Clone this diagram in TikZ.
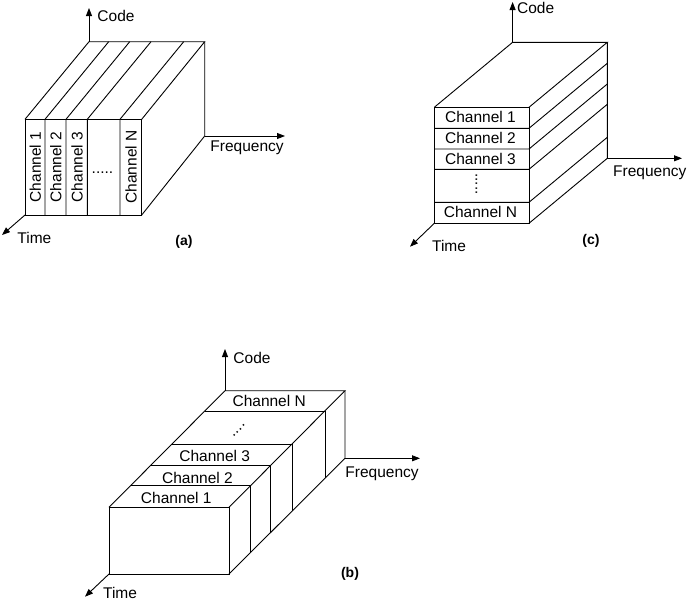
\documentclass[tikz,border=0pt]{standalone}
\usepackage{fontspec}
\setmainfont{Liberation Sans}
\usetikzlibrary{arrows.meta}
\begin{document}
\begin{tikzpicture}[x=1pt,y=-1pt,line width=0.9pt,line join=miter,
  axis/.style={-{Triangle[length=8pt,width=6pt]}},
  lbl/.style={inner sep=0pt,font=\fontsize{15.5}{18}\selectfont},
  capt/.style={inner sep=0pt,font=\fontsize{14}{16}\selectfont\bfseries}]
\useasboundingbox (0,0) rectangle (689,600);
% ---------------- (a) ----------------
\coordinate (aFTL) at (25,119.3);
\coordinate (aFTR) at (141.7,119.3);
\coordinate (aFBL) at (25,215);
\coordinate (aFBR) at (141.7,215);
\coordinate (aBTL) at (89,41.7);
\coordinate (aBTR) at (204.7,41.7);
\coordinate (aBBR) at (204.7,136);
\coordinate (aCode) at (89,8);
\coordinate (aFreq) at (285,136);
\coordinate (aTime) at (2,235);
\draw (aFTL) rectangle (aFBR);
\draw (aFTL) -- (aBTL) -- (aBTR) -- (aFTR);
\draw (aBTR) -- (aBBR) -- (aFBR);
\foreach \x in {45,66,87.3,120} \draw (\x,215) -- (\x,119.3) -- ++(63.7,-77.6);
\draw[axis] (aBTL) -- (aCode);
\draw[axis] (aBBR) -- (aFreq);
\draw[axis] (aFBL) -- (aTime);
\node[lbl,anchor=base west] (aCodeL) at (97,21.7) {Code};
\node[lbl,anchor=base west] (aFreqL) at (210,151.7) {Frequency};
\node[lbl,anchor=base west] (aTimeL) at (17,243.3) {Time};
\node[capt] (aCap) at (184,241.5) {(a)};
\node[lbl,rotate=90] (a1) at (35.3,167) {Channel 1};
\node[lbl,rotate=90] (a2) at (55.8,167) {Channel 2};
\node[lbl,rotate=90] (a3) at (77,167) {Channel 3};
\node[lbl,rotate=90] (aN) at (131.2,167) {Channel N};
\node[lbl,anchor=base] (aDots) at (102.5,173) {.....};
% ---------------- (c) ----------------
\coordinate (cFTL) at (434.3,107.3);
\coordinate (cFTR) at (529,107.3);
\coordinate (cFBL) at (434.3,223.3);
\coordinate (cFBR) at (529,223.3);
\coordinate (cBTL) at (512.6,42.3);
\coordinate (cBTR) at (607.3,42.3);
\coordinate (cBBR) at (607.3,158.3);
\coordinate (cCode) at (512.6,2);
\coordinate (cFreq) at (682,158.3);
\coordinate (cTime) at (410,246.7);
\draw (cFTL) rectangle (cFBR);
\draw (cFTL) -- (cBTL) -- (cBTR) -- (cFTR);
\draw (cBTR) -- (cBBR) -- (cFBR);
\foreach \y in {128.3,149,169.3,202.3} \draw (434.3,\y) -- (529,\y) -- ++(78.3,-65);
\draw[axis] (cBTL) -- (cCode);
\draw[axis] (cBBR) -- (cFreq);
\draw[axis] (cFBL) -- (cTime);
\node[lbl,anchor=base west] (cCodeL) at (516.7,13.3) {Code};
\node[lbl,anchor=base west] (cFreqL) at (612.7,176.7) {Frequency};
\node[lbl,anchor=base west] (cTimeL) at (431.7,251.7) {Time};
\node[capt] (cCap) at (591,241) {(c)};
\node[lbl] (c1) at (480.5,117.3) {Channel 1};
\node[lbl] (c2) at (480.5,138.3) {Channel 2};
\node[lbl] (c3) at (480.5,158.8) {Channel 3};
\node[lbl] (cN) at (480.5,212.3) {Channel N};
\node[lbl,rotate=-90,anchor=base] (cDots) at (475.5,184) {.....};
% ---------------- (b) ----------------
\coordinate (bFTL) at (109,507.3);
\coordinate (bFTR) at (229,507.3);
\coordinate (bFBL) at (109,574);
\coordinate (bFBR) at (229,574);
\coordinate (bBTL) at (225,390.7);
\coordinate (bBTR) at (345,390.7);
\coordinate (bBBR) at (345,458.3);
\coordinate (bCode) at (225,349);
\coordinate (bFreq) at (420,458.3);
\coordinate (bTime) at (85,596.7);
\draw (bFTL) rectangle (bFBR);
\draw (bFTL) -- (bBTL) -- (bBTR) -- (bFTR);
\draw (bBTR) -- (bBBR) -- (bFBR);
\foreach \d in {21.6,41.6,63,96.3} \draw (109+\d,507.3-\d) -- (229+\d,507.3-\d) -- (229+\d,574-\d);
\draw[axis] (bBTL) -- (bCode);
\draw[axis] (bBBR) -- (bFreq);
\draw[axis] (bFBL) -- (bTime);
\node[lbl,anchor=base west] (bCodeL) at (233,363.3) {Code};
\node[lbl,anchor=base west] (bFreqL) at (345,477.3) {Frequency};
\node[lbl,anchor=base west] (bTimeL) at (102.7,598.6) {Time};
\node[capt] (bCap) at (350,574) {(b)};
\node[lbl] (b1) at (176.3,497.8) {Channel 1};
\node[lbl] (b2) at (197.5,477.5) {Channel 2};
\node[lbl] (b3) at (214.7,455.8) {Channel 3};
\node[lbl] (bN) at (269.2,400.8) {Channel N};
\node[lbl,rotate=45,anchor=base] (bDots) at (239.5,431) {....};
\end{tikzpicture}
\end{document}
